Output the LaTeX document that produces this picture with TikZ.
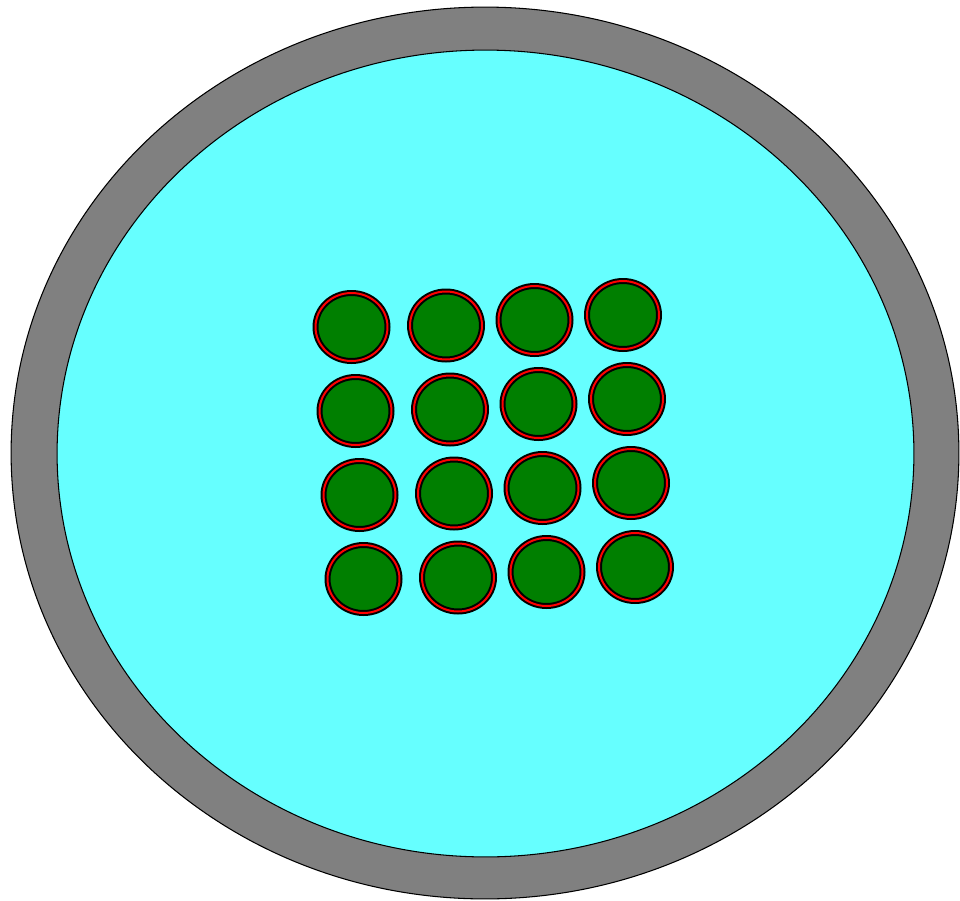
\documentclass[tikz,border=0pt]{standalone}
\usepackage{tikz}
\usetikzlibrary{positioning}
\definecolor{wallgray}{HTML}{808080}
\definecolor{coolcyan}{HTML}{66FFFF}
\definecolor{fuelgreen}{HTML}{007F00}
\definecolor{cladred}{HTML}{FF0000}

\tikzset{
  vessel/.style={draw=black, line width=0.6pt, fill=wallgray},
  coolant/.style={draw=black, line width=0.6pt, fill=coolcyan},
  pinbody/.style={fill=fuelgreen, draw=black, line width=0.12cm},
  pinclad/.style={draw=cladred, line width=0.04cm}
}

\begin{document}
\begin{tikzpicture}[x=0.02cm, y=-0.02cm]
  \useasboundingbox (0,0) rectangle (960,900);
  % vessel wall and coolant
  \draw[vessel] (485,453) ellipse [x radius=9.48cm, y radius=8.92cm];
  \draw[coolant] (485.5,453.5) ellipse [x radius=8.57cm, y radius=8.07cm];
  % 4x4 pin lattice
  \foreach \cx/\cy in {351.5/327, 446/325.5, 534.5/320, 623/315}{
    \foreach \r in {0,...,3}{
      \draw[pinbody] (\cx+4*\r, \cy+84*\r) ellipse [x radius=0.72cm, y radius=0.68cm];
      \draw[pinclad] (\cx+4*\r, \cy+84*\r) ellipse [x radius=0.72cm, y radius=0.68cm];
    }
  }
\end{tikzpicture}
\end{document}
